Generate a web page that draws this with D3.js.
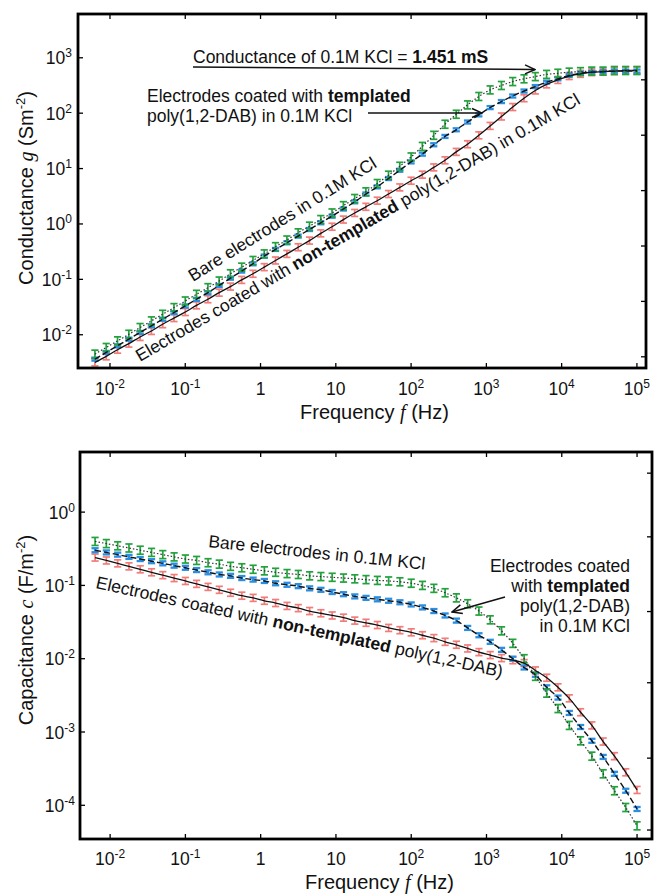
<!DOCTYPE html>
<html><head><meta charset="utf-8">
<script src="https://cdn.jsdelivr.net/npm/d3@7"></script>
<style>
body{margin:0;background:#fff}
svg{display:block}
text{font-family:"Liberation Sans",Arial,Helvetica,sans-serif;fill:#111}
</style>
</head><body>
<svg id="chart" width="654" height="895"></svg>
<script>
// ---------- data ----------
const freq = [0.00631, 0.00891, 0.0126, 0.0178, 0.0251, 0.0355, 0.0501, 0.0708, 0.1, 0.141, 0.2, 0.282, 0.398, 0.562, 0.794, 1.12, 1.58, 2.24, 3.16, 4.47, 6.31, 8.91, 12.6, 17.8, 25.1, 35.5, 50.1, 70.8, 100, 141, 200, 282, 398, 562, 794, 1122, 1585, 2239, 3162, 4467, 6310, 8913, 12589, 17783, 25119, 35481, 50119, 70795, 100000];

// Conductance g (S m^-2)
const gBare = [0.00447, 0.00589, 0.00776, 0.0102, 0.0135, 0.0178, 0.0234, 0.0309, 0.0407, 0.0537, 0.0708, 0.0933, 0.126, 0.166, 0.219, 0.288, 0.389, 0.513, 0.692, 0.912, 1.20, 1.58, 2.14, 2.88, 3.80, 5.37, 7.59, 11.0, 16.2, 25.1, 39.8, 63.1, 95.5, 141, 200, 263, 316, 372, 417, 457, 501, 525, 550, 562, 575, 575, 589, 589, 589];
const gTemplated = [0.00363, 0.00479, 0.00631, 0.00832, 0.0110, 0.0145, 0.0191, 0.0251, 0.0331, 0.0437, 0.0575, 0.0776, 0.105, 0.141, 0.191, 0.263, 0.347, 0.457, 0.603, 0.794, 1.05, 1.38, 1.86, 2.51, 3.47, 4.68, 6.61, 9.33, 13.2, 18.2, 26.9, 38.0, 50.1, 69.2, 93.3, 126, 162, 204, 251, 302, 363, 417, 479, 525, 550, 562, 575, 575, 575];
const gNonTemplated = [0.00316, 0.00407, 0.00537, 0.00692, 0.00912, 0.0117, 0.0155, 0.0200, 0.0257, 0.0339, 0.0437, 0.0575, 0.0741, 0.0977, 0.126, 0.166, 0.219, 0.288, 0.380, 0.501, 0.676, 0.891, 1.20, 1.58, 2.04, 2.63, 3.47, 4.57, 6.03, 7.76, 10.5, 14.1, 20.0, 27.5, 39.8, 58.9, 87.1, 129, 186, 257, 331, 398, 468, 513, 550, 562, 575, 589, 589];

// Capacitance c (F m^-2)
const cBare = [0.398, 0.372, 0.347, 0.324, 0.302, 0.282, 0.263, 0.245, 0.229, 0.219, 0.204, 0.195, 0.182, 0.174, 0.166, 0.158, 0.151, 0.145, 0.141, 0.135, 0.132, 0.129, 0.126, 0.123, 0.120, 0.117, 0.115, 0.112, 0.107, 0.100, 0.0912, 0.0794, 0.0676, 0.0562, 0.0447, 0.0339, 0.0240, 0.0162, 0.0100, 0.00575, 0.00339, 0.00209, 0.00123, 0.000759, 0.000468, 0.000269, 0.000158, 0.0000933, 0.0000525];
const cTemplated = [0.302, 0.282, 0.263, 0.245, 0.229, 0.214, 0.200, 0.186, 0.174, 0.162, 0.151, 0.141, 0.135, 0.126, 0.120, 0.115, 0.107, 0.102, 0.0977, 0.0912, 0.0871, 0.0813, 0.0759, 0.0708, 0.0676, 0.0646, 0.0617, 0.0589, 0.0550, 0.0501, 0.0447, 0.0389, 0.0331, 0.0263, 0.0209, 0.0170, 0.0132, 0.0100, 0.00759, 0.00603, 0.00407, 0.00295, 0.00182, 0.00117, 0.000759, 0.000457, 0.000269, 0.000158, 0.0000891];
const cNonTemplated = [0.240, 0.219, 0.200, 0.182, 0.166, 0.151, 0.138, 0.126, 0.115, 0.105, 0.0955, 0.0871, 0.0794, 0.0724, 0.0676, 0.0617, 0.0575, 0.0525, 0.0490, 0.0447, 0.0417, 0.0389, 0.0363, 0.0331, 0.0309, 0.0288, 0.0263, 0.0245, 0.0229, 0.0209, 0.0191, 0.0170, 0.0155, 0.0138, 0.0123, 0.0112, 0.0102, 0.00955, 0.00871, 0.00692, 0.00550, 0.00407, 0.00288, 0.00186, 0.00123, 0.000741, 0.000468, 0.000282, 0.000162];

// multiplicative error-bar half-ranges
const gErr = [1.18, 1.065, 1.155];   // bare, templated, non-templated
const cErr = [1.134, 1.065, 1.116];

// ticks
const xTickExps = [-2, -1, 0, 1, 2, 3, 4, 5];
const gTickExps = [-2, -1, 0, 1, 2, 3];
const cTickExps = [-4, -3, -2, -1, 0];
const gRightTicks = [0.004, 0.04, 0.4, 4, 40, 400];
const cRightTicks = [0.000046, 0.00044, 0.0047, 0.044, 0.46, 3.4];

// ---------- drawing ----------
const colors = {bare: "#22a23c", templated: "#2a8fe2", non: "#f27c7a"};
const svg = d3.select("#chart");
const defs = svg.append("defs");
defs.append("marker").attr("id", "arrow").attr("markerUnits", "userSpaceOnUse")
  .attr("viewBox", "0 0 12 12").attr("refX", 11).attr("refY", 6)
  .attr("markerWidth", 12).attr("markerHeight", 12).attr("orient", "auto")
  .append("path").attr("d", "M1,1.5 L11,6 L1,10.5").attr("fill", "none")
  .attr("stroke", "#111").attr("stroke-width", 1.5);

function supLabel(sel, base, exp, sizeBase, sizeSup) {
  sel.append("tspan").text(base).attr("font-size", sizeBase);
  if (exp !== null) sel.append("tspan").text(exp).attr("font-size", sizeSup).attr("dy", -7);
}

function panel(o) {
  const g = svg.append("g");
  const x = d3.scaleLog().domain(o.xDomain).range([o.left, o.right]);
  const y = d3.scaleLog().domain(o.yDomain).range([o.bottom, o.top]);
  const clip = "clip" + o.id;
  defs.append("clipPath").attr("id", clip).append("rect")
    .attr("x", o.left).attr("y", o.top).attr("width", o.right - o.left).attr("height", o.bottom - o.top);
  const plot = g.append("g").attr("clip-path", `url(#${clip})`);

  // error bars
  o.series.forEach(s => {
    const eb = plot.append("g").attr("stroke", s.color).attr("stroke-width", s.barWidth).attr("fill", "none");
    freq.forEach((f, i) => {
      const v = s.values[i], xx = x(f), y1 = y(v / s.err), y2 = y(v * s.err), w = 3.6;
      eb.append("line").attr("x1", xx).attr("x2", xx).attr("y1", y1).attr("y2", y2);
      eb.append("line").attr("x1", xx - w).attr("x2", xx + w).attr("y1", y1).attr("y2", y1);
      eb.append("line").attr("x1", xx - w).attr("x2", xx + w).attr("y1", y2).attr("y2", y2);
    });
  });
  // fit lines
  const line = d3.line().x(d => x(d[0])).y(d => y(d[1])).curve(d3.curveMonotoneX);
  o.series.forEach(s => {
    plot.append("path").datum(freq.map((f, i) => [f, s.values[i]]))
      .attr("d", line).attr("fill", "none").attr("stroke", s.lineColor)
      .attr("stroke-width", s.lineWidth).attr("stroke-dasharray", s.dash);
  });

  // frame
  g.append("rect").attr("x", o.left).attr("y", o.top).attr("width", o.right - o.left)
    .attr("height", o.bottom - o.top).attr("fill", "none").attr("stroke", "#000").attr("stroke-width", 2.8);

  // ticks
  const tk = g.append("g").attr("stroke", "#000").attr("stroke-width", 1.3);
  xTickExps.forEach(e => {
    const xx = x(Math.pow(10, e));
    tk.append("line").attr("x1", xx).attr("x2", xx).attr("y1", o.top).attr("y2", o.top + 5);
    tk.append("line").attr("x1", xx).attr("x2", xx).attr("y1", o.bottom).attr("y2", o.bottom - 5);
    const t = g.append("text").attr("x", xx).attr("y", o.bottom + o.xLabelDy).attr("text-anchor", "middle");
    if (e === 0) supLabel(t, "1", null, 17.5, 12);
    else if (e === 1) supLabel(t, "10", null, 17.5, 12);
    else supLabel(t, "10", e < 0 ? "-" + (-e) : String(e), 17.5, 12);
  });
  o.yTickExps.forEach(e => {
    const yy = y(Math.pow(10, e));
    tk.append("line").attr("x1", o.left).attr("x2", o.left + 5).attr("y1", yy).attr("y2", yy);
    const t = g.append("text").attr("x", o.left - o.yLabelDx).attr("y", yy + 6.5).attr("text-anchor", "end");
    supLabel(t, "10", e < 0 ? "-" + (-e) : String(e), 17.5, 12);
  });
  o.rightTicks.forEach(v => {
    const yy = y(v);
    tk.append("line").attr("x1", o.right).attr("x2", o.right - 5).attr("y1", yy).attr("y2", yy);
  });

  // axis titles
  const xt = g.append("text").attr("x", o.xTitleX).attr("y", o.xTitleY).attr("font-size", 20);
  xt.append("tspan").text("Frequency ");
  xt.append("tspan").text("f").attr("font-family", "Liberation Serif, Times New Roman, serif").attr("font-style", "italic");
  xt.append("tspan").text(" (Hz)");

  const yt = g.append("text").attr("transform", `translate(${o.yTitleX},${o.yTitleY}) rotate(-90)`)
    .attr("text-anchor", "middle").attr("font-size", 20);
  yt.append("tspan").text(o.yTitle[0]);
  yt.append("tspan").text(o.yTitle[1]).attr("font-family", "Liberation Serif, Times New Roman, serif").attr("font-style", "italic");
  yt.append("tspan").text(o.yTitle[2]);
  yt.append("tspan").text("-2").attr("font-size", 13).attr("dy", -8);
  yt.append("tspan").text(")").attr("dy", 8);
  return {g, x, y};
}

function mkSeries(vals, errs) {
  return [
    {values: vals[2], err: errs[2], color: colors.non, barWidth: 1.7, lineColor: "#111", lineWidth: 1.3, dash: null},
    {values: vals[1], err: errs[1], color: colors.templated, barWidth: 2.3, lineColor: "#111", lineWidth: 1.4, dash: "6,3"},
    {values: vals[0], err: errs[0], color: colors.bare, barWidth: 1.7, lineColor: "#333", lineWidth: 1.2, dash: "1.5,2"}
  ];
}

// ---- Top panel: conductance ----
const panelG = panel({
  id: "g", left: 78, right: 646, top: 14, bottom: 368,
  xDomain: [3.76e-3, 1.32e5], yDomain: [2.51e-3, 6170],
  yTickExps: gTickExps, rightTicks: gRightTicks,
  xLabelDy: 27, yLabelDx: 6,
  xTitleX: 300, xTitleY: 419, yTitleX: 33, yTitleY: 188,
  yTitle: ["Conductance ", "g", " (Sm"],
  series: mkSeries([gBare, gTemplated, gNonTemplated], gErr)
});

const FS = 17.5;
let t = panelG.g.append("text").attr("x", 193).attr("y", 63).attr("font-size", FS);
t.append("tspan").text("Conductance of 0.1M KCl = ");
t.append("tspan").text("1.451 mS").attr("font-weight", "bold");
panelG.g.append("line").attr("x1", 193).attr("y1", 67).attr("x2", 535).attr("y2", 69.5)
  .attr("stroke", "#111").attr("stroke-width", 1.5).attr("marker-end", "url(#arrow)");

t = panelG.g.append("text").attr("x", 147).attr("y", 102).attr("font-size", FS);
t.append("tspan").text("Electrodes coated with ");
t.append("tspan").text("templated").attr("font-weight", "bold");
panelG.g.append("text").attr("x", 147).attr("y", 122).attr("font-size", FS).text("poly(1,2-DAB) in 0.1M KCl");
panelG.g.append("line").attr("x1", 368).attr("y1", 113).attr("x2", 482).attr("y2", 113)
  .attr("stroke", "#111").attr("stroke-width", 1.5).attr("marker-end", "url(#arrow)");

panelG.g.append("text").attr("transform", "translate(193,282) rotate(-32)").attr("font-size", FS)
  .text("Bare electrodes in 0.1M KCl");
t = panelG.g.append("text").attr("transform", "translate(140,362) rotate(-30.4)").attr("font-size", FS);
t.append("tspan").text("Electrodes coated with ");
t.append("tspan").text("non-templated").attr("font-weight", "bold");
t.append("tspan").text(" poly(1,2-DAB) in 0.1M KCl");

// ---- Bottom panel: capacitance ----
const panelC = panel({
  id: "c", left: 80, right: 652, top: 452, bottom: 839,
  xDomain: [3.98e-3, 1.58e5], yDomain: [3.47e-5, 6.61],
  yTickExps: cTickExps, rightTicks: cRightTicks,
  xLabelDy: 26, yLabelDx: 5,
  xTitleX: 305, xTitleY: 889, yTitleX: 33, yTitleY: 630,
  yTitle: ["Capacitance ", "c", " (F/m"],
  series: mkSeries([cBare, cTemplated, cNonTemplated], cErr)
});

panelC.g.append("text").attr("transform", "translate(208,547) rotate(6)").attr("font-size", FS)
  .text("Bare electrodes in 0.1M KCl");
t = panelC.g.append("text").attr("transform", "translate(95,588) rotate(12.4)").attr("font-size", FS);
t.append("tspan").text("Electrodes coated with ");
t.append("tspan").text("non-templated").attr("font-weight", "bold");
t.append("tspan").text(" poly(1,2-DAB)");

const rx = 630;
panelC.g.append("text").attr("x", rx).attr("y", 572).attr("text-anchor", "end").attr("font-size", FS).text("Electrodes coated");
t = panelC.g.append("text").attr("x", rx).attr("y", 592).attr("text-anchor", "end").attr("font-size", FS);
t.append("tspan").text("with ");
t.append("tspan").text("templated").attr("font-weight", "bold");
panelC.g.append("text").attr("x", rx).attr("y", 612).attr("text-anchor", "end").attr("font-size", FS).text("poly(1,2-DAB)");
panelC.g.append("text").attr("x", rx).attr("y", 632).attr("text-anchor", "end").attr("font-size", FS).text("in 0.1M KCl");
panelC.g.append("line").attr("x1", 505).attr("y1", 597).attr("x2", 452).attr("y2", 612)
  .attr("stroke", "#111").attr("stroke-width", 1.5).attr("marker-end", "url(#arrow)");
</script>
</body></html>
